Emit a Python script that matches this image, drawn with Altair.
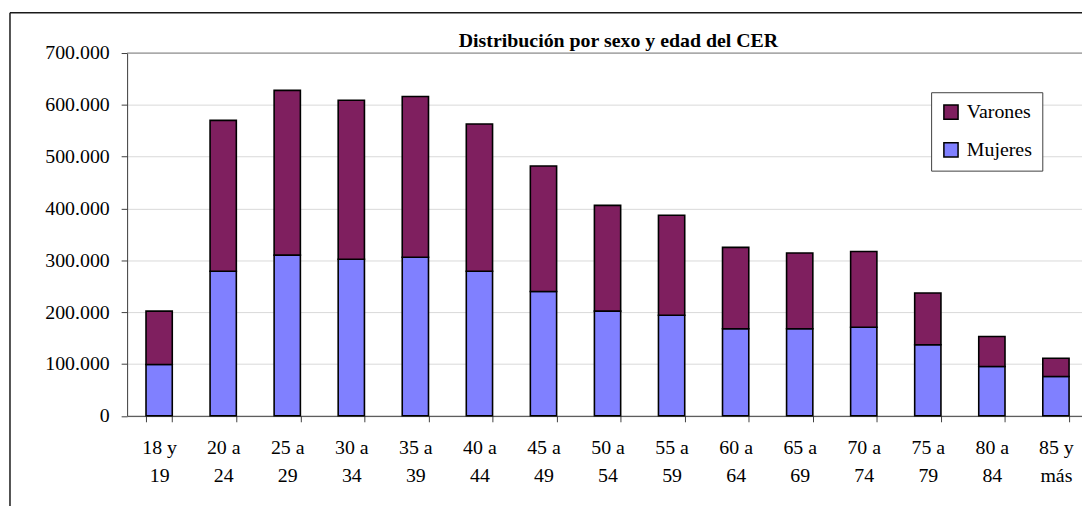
import altair as alt
import pandas as pd

categories = ["18 y 19", "20 a 24", "25 a 29", "30 a 34", "35 a 39", "40 a 44",
              "45 a 49", "50 a 54", "55 a 59", "60 a 64", "65 a 69", "70 a 74",
              "75 a 79", "80 a 84", "85 y más"]
mujeres = [99000, 279000, 310000, 302000, 306000, 279000, 240000, 202000,
           194000, 168000, 168000, 171000, 137000, 95000, 76000]
varones = [103000, 291000, 318000, 307000, 310000, 284000, 242000, 204000,
           193000, 157000, 146000, 146000, 100000, 58000, 35000]
series = ["Varones", "Mujeres"]
colors = ["#7F1F5F", "#8080FF"]
y_ticks = [0, 100000, 200000, 300000, 400000, 500000, 600000, 700000]
title_text = "Distribución por sexo y edad del CER"

rows = []
for i, c in enumerate(categories):
    rows.append({"edad": c, "sexo": "Mujeres", "valor": mujeres[i], "orden": 0})
    rows.append({"edad": c, "sexo": "Varones", "valor": varones[i], "orden": 1})
df = pd.DataFrame(rows)

FONT = "Liberation Serif"
AX = "#404040"

x_enc = alt.X(
    "edad:N", sort=categories, title=None,
    scale=alt.Scale(range=[0, 968], paddingInner=0.59, paddingOuter=0.295),
    axis=alt.Axis(
        labelAngle=0, tickBand="extent",
        labelExpr="[slice(datum.label, 0, lastindexof(datum.label, ' ')), slice(datum.label, lastindexof(datum.label, ' ') + 1)]",
        labelFont=FONT, labelFontSize=20, labelColor="black", labelLineHeight=28,
        labelPadding=16, tickSize=6, tickColor=AX, domainColor=AX, grid=False,
        labelBaseline="top",
    ),
)
y_enc = alt.Y(
    "valor:Q", title=None, stack="zero",
    scale=alt.Scale(domain=[0, 700000], nice=False),
    axis=alt.Axis(
        values=y_ticks,
        labelExpr="replace(format(datum.value, ','), regexp(',', 'g'), '.')",
        labelFont=FONT, labelFontSize=20, labelColor="black", labelPadding=12,
        tickSize=6, tickColor=AX, domainColor=AX, gridColor="#D9D9D9",
        gridWidth=1,
    ),
)

bars = alt.Chart(df).mark_bar(stroke="black", strokeWidth=1.6).encode(
    x=x_enc,
    y=y_enc,
    color=alt.Color(
        "sexo:N",
        scale=alt.Scale(domain=series, range=colors),
        legend=alt.Legend(
            orient="none", legendX=810, legendY=39.5, title=None,
            symbolType="square", symbolSize=204, symbolStrokeColor="black",
            symbolStrokeWidth=1.5, symbolOpacity=1,
            labelFont=FONT, labelFontSize=20, labelColor="black", labelOffset=6,
            rowPadding=16, padding=10, strokeColor=AX, fillColor="white",
        ),
    ),
    order=alt.Order("orden:Q", sort="ascending"),
)

top_rule = alt.Chart(pd.DataFrame({"y": [700000]})).mark_rule(
    color="#808080", strokeWidth=1
).encode(y="y:Q")

one = pd.DataFrame({"a": [0]})
border_top = alt.Chart(one).mark_rule(color="#1a1a1a", strokeWidth=1.5).encode(
    x=alt.value(-118), x2=alt.value(1000), y=alt.value(-40.5)
)
border_left = alt.Chart(one).mark_rule(color="#1a1a1a", strokeWidth=1.5).encode(
    x=alt.value(-118), y=alt.value(-40.5), y2=alt.value(470)
)

title = alt.Chart(one).mark_text(
    font=FONT, fontSize=20, fontWeight="bold", color="black",
    align="center", baseline="alphabetic",
).encode(x=alt.value(495), y=alt.value(-5.8), text=alt.value(title_text))

chart = alt.layer(border_top, border_left, bars, top_rule, title).properties(
    width=962,
    height=365.5,
    autosize=alt.AutoSizeParams(type="none"),
    padding={"left": 120, "top": 43.5, "right": 0, "bottom": 89},
).configure_view(stroke=None).configure(background="white").configure_legend(
    labelFont=FONT
)

chart.save("out.html", embed_options={"renderer": "svg", "actions": False})
